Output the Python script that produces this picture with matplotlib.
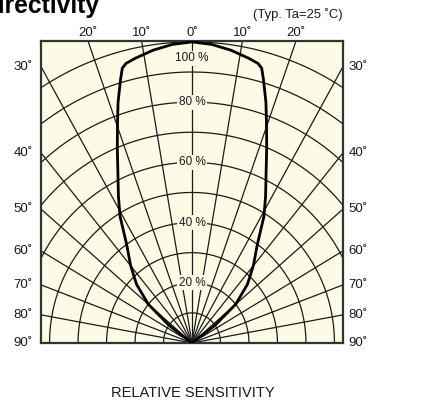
import numpy as np
import matplotlib
matplotlib.use("Agg")
import matplotlib.pyplot as plt

plt.rcParams['font.family'] = ['Liberation Sans', 'DejaVu Sans']

# relative sensitivity vs. angle (deg from axis), symmetric
angles = [0, 4, 8, 12, 14, 15, 16, 18, 20, 22, 25, 28, 31, 35, 40, 45, 50, 54, 58]
sens = [1.0, 0.994, 0.982, 0.966, 0.957, 0.945, 0.91, 0.84, 0.765, 0.70,
        0.615, 0.55, 0.49, 0.40, 0.335, 0.275, 0.20, 0.10, 0.0]

ring_levels = [0.1, 0.2, 0.3, 0.4, 0.5, 0.6, 0.7, 0.8, 0.9, 1.0]
ring_labels = {1.0: "100 %", 0.8: "80 %", 0.6: "60 %", 0.4: "40 %", 0.2: "20 %"}
ray_angles = list(range(-90, 91, 10))
top_ticks = [-20, -10, 0, 10, 20]
side_ticks = [30, 40, 50, 60, 70, 80, 90]

bg = '#fdfbe6'
ink = '#1a1a1a'

W, H = 430, 405
fig = plt.figure(figsize=(W / 100, H / 100), dpi=100)
# axes box in pixels: x 41..343, y 41..343
L, R, T, B = 41, 343, 41, 343
ax = fig.add_axes([L / W, 1 - B / H, (R - L) / W, (B - T) / H])
ax.set_facecolor(bg)

XM = 0.53   # half width in sensitivity units (chart is a bit squashed horizontally)
YM = 1.003
ax.set_xlim(-XM, XM)
ax.set_ylim(0, YM)
ax.set_aspect('auto')
ax.set_xticks([])
ax.set_yticks([])
for s in ax.spines.values():
    s.set_linewidth(1.6)
    s.set_color('#333333')

th = np.radians(np.linspace(-90, 90, 361))
for r in ring_levels:
    ax.plot(r * np.sin(th), r * np.cos(th), color=ink, lw=0.9, zorder=2)
for a in ray_angles:
    t = np.radians(a)
    ax.plot([0, 2 * np.sin(t)], [0, 2 * np.cos(t)], color=ink, lw=0.9, zorder=2)

# sensitivity curve
a_full = np.radians([-a for a in angles[::-1]] + angles[1:])
s_full = np.array(sens[::-1] + sens[1:])
ax.plot(s_full * np.sin(a_full), s_full * np.cos(a_full), color='black', lw=2.0,
        zorder=4, solid_joinstyle='round')

for r, lab in ring_labels.items():
    y = r if r < 1.0 else 0.945
    ax.text(0, y, lab, ha='center', va='center', fontsize=8.5, color=ink, zorder=3,
            bbox=dict(boxstyle='square,pad=0.12', fc=bg, ec='none'))

fs = 9.5
for a in top_ticks:
    x = YM * np.tan(np.radians(a))
    ax.text(x, 1.03, f"{abs(a)}˚", ha='center', va='center', fontsize=fs,
            color=ink, clip_on=False)
for a in side_ticks:
    y = XM / np.tan(np.radians(a)) if a < 90 else 0.0
    ax.text(-XM - 0.03, y, f"{a}˚", ha='right', va='center', fontsize=fs,
            color=ink, clip_on=False)
    ax.text(XM + 0.02, y, f"{a}˚", ha='left', va='center', fontsize=fs,
            color=ink, clip_on=False)

fig.text(343 / W, 1 - 15 / H, "(Typ. Ta=25 ˚C)", ha='right', va='center',
         fontsize=9.4, color=ink)
fig.text(193 / W, 1 - 393 / H, "RELATIVE SENSITIVITY", ha='center', va='center',
         fontsize=10.5, color=ink)
fig.text(100 / W, 1 - 13.5 / H, "Directivity", ha='right', va='baseline',
         fontsize=17.7, fontweight='bold', color='black')

fig.savefig('out.png', dpi=100, facecolor='white')
